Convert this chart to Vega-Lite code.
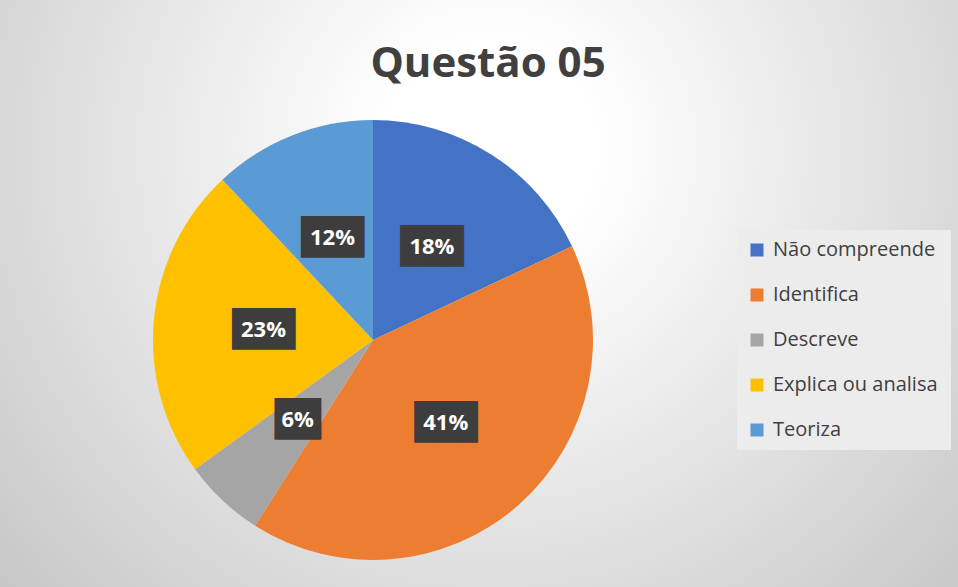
{
  "$schema": "https://vega.github.io/schema/vega-lite/v6.json",
  "width": 1170,
  "height": 680,
  "autosize": {"type": "none"},
  "padding": {"left": -212, "top": 0, "right": 0, "bottom": -93},
  "background": "#ffffff",
  "title": {
    "text": "Questão 05",
    "orient": "top",
    "anchor": "middle",
    "dx": 115,
    "offset": -86,
    "font": "Open Sans",
    "fontSize": 42,
    "fontWeight": "bold",
    "color": "#404040"
  },
  "data": {
    "values": [
      {"categoria": "Não  compreende", "valor": 0.18},
      {"categoria": "Identifica", "valor": 0.41},
      {"categoria": "Descreve", "valor": 0.06},
      {"categoria": "Explica ou analisa", "valor": 0.23},
      {"categoria": "Teoriza", "valor": 0.12}
    ]
  },
  "transform": [{"window": [{"op": "row_number", "as": "ordem"}]}],
  "layer": [
    {
      "mark": {
        "type": "rect",
        "color": {
          "gradient": "radial",
          "x1": 0.6, "y1": 0.3376, "r1": 0,
          "x2": 0.6, "y2": 0.3376, "r2": 0.6,
          "stops": [
            {"offset": 0, "color": "#ffffff"},
            {"offset": 0.15, "color": "#ffffff"},
            {"offset": 1, "color": "#c2c2c2"}
          ]
        }
      },
      "encoding": {}
    },
    {
      "mark": {"type": "arc", "outerRadius": 220},
      "encoding": {
        "theta": {"field": "valor", "type": "quantitative", "stack": true},
        "order": {"field": "ordem", "type": "quantitative"},
        "color": {
          "field": "categoria",
          "type": "nominal",
          "scale": {
            "domain": ["Não  compreende", "Identifica", "Descreve", "Explica ou analisa", "Teoriza"],
            "range": ["#4472C4", "#ED7D31", "#A5A5A5", "#FFC000", "#5B9BD5"]
          },
          "legend": {
            "title": null,
            "orient": "none",
            "legendX": 949,
            "legendY": 230,
            "direction": "vertical",
            "symbolType": "square",
            "symbolSize": 169,
            "symbolStrokeWidth": 0,
            "labelFont": "Open Sans",
            "labelFontSize": 20,
            "labelColor": "#404040",
            "labelOffset": 6,
            "labelLimit": 300,
            "rowPadding": 25,
            "padding": 10,
            "fillColor": "#ececec"
          }
        }
      }
    },
    {
      "mark": {"type": "text", "radius": 110, "font": "DejaVu Sans Mono", "fontSize": 35, "color": "#3d3d3d", "align": "center", "baseline": "middle"},
      "encoding": {
        "theta": {"field": "valor", "type": "quantitative", "stack": true},
        "order": {"field": "ordem", "type": "quantitative"},
        "text": {"condition": {"test": "datum.valor < 0.1", "value": "▕██▏"}, "value": "███"}
      }
    },
    {
      "mark": {"type": "text", "radius": 110, "font": "Open Sans", "fontSize": 22, "fontWeight": "bold", "color": "#ffffff", "align": "center", "baseline": "middle"},
      "encoding": {
        "theta": {"field": "valor", "type": "quantitative", "stack": true},
        "order": {"field": "ordem", "type": "quantitative"},
        "text": {"field": "valor", "type": "quantitative", "format": ".0%"}
      }
    }
  ],
  "config": {"view": {"stroke": null}}
}
